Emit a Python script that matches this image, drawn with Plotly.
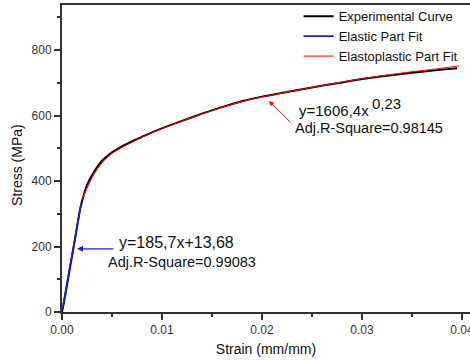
import plotly.graph_objects as go

# Experimental stress-strain curve
exp_strain = [0.0, 0.0002, 0.0006, 0.0010, 0.0014, 0.0018, 0.0021, 0.0025, 0.0030, 0.0035,
              0.0040, 0.0045, 0.0050, 0.0055, 0.0060, 0.0070, 0.0080, 0.0090, 0.0105, 0.0120,
              0.0140, 0.0160, 0.0180, 0.0200, 0.0225, 0.0250, 0.0275, 0.0300, 0.0325, 0.0350,
              0.0375, 0.0395]
exp_stress = [0, 30, 100, 170, 240, 312, 350, 388, 418, 442,
              462, 476, 488, 497, 506, 521, 535, 549, 567, 584,
              606, 626, 644, 658, 672, 686, 699, 712, 722, 731,
              739, 745]

# Elastic part fit (linear)
el_strain = [0.0000, 0.0019]
el_stress = [2, 330]

# Elastoplastic part fit (power law)
pl_strain = [0.0020, 0.0025, 0.0030, 0.0035, 0.0040, 0.0045, 0.0050, 0.0055, 0.0060, 0.0070,
             0.0080, 0.0090, 0.0105, 0.0120, 0.0140, 0.0160, 0.0180, 0.0200, 0.0225, 0.0250,
             0.0275, 0.0300, 0.0325, 0.0350, 0.0375, 0.0397]
pl_stress = [342, 378, 410, 435, 456, 471, 484, 494, 503, 519,
             534, 548, 566, 583, 605, 625, 643, 657, 672, 686,
             700, 713, 724, 734, 743, 752]

x_ticks = [0.0, 0.01, 0.02, 0.03, 0.04]
x_ticklabels = ["0.00", "0.01", "0.02", "0.03", "0.04"]
y_ticks = [0, 200, 400, 600, 800]

FONT = "Arial, Liberation Sans, sans-serif"
AX = "#333333"
BLUE = "#2020cc"

fig = go.Figure()
fig.add_trace(go.Scatter(x=exp_strain, y=exp_stress, mode="lines", name="Experimental Curve",
                         line=dict(color="#000000", width=2, shape="spline", smoothing=0.6)))
fig.add_trace(go.Scatter(x=el_strain, y=el_stress, mode="lines", name="Elastic Part Fit",
                         line=dict(color=BLUE, width=1.6)))
fig.add_trace(go.Scatter(x=pl_strain, y=pl_stress, mode="lines", name="Elastoplastic Part Fit",
                         line=dict(color="#ff0000", width=1, shape="spline", smoothing=0.6)))

annotations = [
    dict(x=0.0055, y=211, xref="x", yref="y", text="y=185,7x+13,68", showarrow=False,
         xanchor="left", yanchor="middle", font=dict(size=16, color="#111", family=FONT)),
    dict(x=0.0044, y=153, xref="x", yref="y", text="Adj.R-Square=0.99083", showarrow=False,
         xanchor="left", yanchor="middle", font=dict(size=14.5, color="#111", family=FONT)),
    dict(x=0.0015, y=193, ax=0.0053, ay=193, xref="x", yref="y", axref="x", ayref="y",
         text="", showarrow=True, arrowhead=2, arrowsize=1, arrowwidth=1.2, arrowcolor=BLUE),
    dict(x=0.0235, y=615, xref="x", yref="y", text="y=1606,4x", showarrow=False,
         xanchor="left", yanchor="middle", font=dict(size=15, color="#111", family=FONT)),
    dict(x=0.0308, y=636, xref="x", yref="y", text="0,23", showarrow=False,
         xanchor="left", yanchor="middle", font=dict(size=15, color="#111", family=FONT)),
    dict(x=0.0231, y=563, xref="x", yref="y", text="Adj.R-Square=0.98145", showarrow=False,
         xanchor="left", yanchor="middle", font=dict(size=14.5, color="#111", family=FONT)),
    dict(x=0.0207, y=645, ax=0.0230, ay=575, xref="x", yref="y", axref="x", ayref="y",
         text="", showarrow=True, arrowhead=2, arrowsize=1, arrowwidth=1, arrowcolor="#ff0000"),
    dict(x=-0.112, y=0.48, xref="paper", yref="paper", text="Stress (MPa)", showarrow=False,
         textangle=-90, xanchor="center", yanchor="middle",
         font=dict(size=14, color="#111", family=FONT)),
]

fig.update_layout(
    width=470, height=360, autosize=False,
    margin=dict(l=62, r=0, t=5, b=48, autoexpand=False),
    paper_bgcolor="white", plot_bgcolor="white",
    font=dict(family=FONT, color=AX),
    showlegend=True,
    legend=dict(x=0.58, y=1.012, xanchor="left", yanchor="top", bgcolor="rgba(0,0,0,0)",
                font=dict(size=13, color="#111", family=FONT), tracegroupgap=0,
                itemwidth=30),
    annotations=annotations,
    xaxis=dict(range=[0, 0.0408], tickvals=x_ticks, ticktext=x_ticklabels, automargin=False,
               showgrid=False, zeroline=False, showline=True, linecolor=AX, linewidth=2,
               mirror=True, ticks="outside", ticklen=6, tickwidth=1.5, tickcolor=AX,
               ticklabeloverflow="allow",
               tickfont=dict(size=12, color=AX, family=FONT),
               minor=dict(dtick=0.005, tick0=0, ticks="outside", ticklen=3, tickwidth=1.5, tickcolor=AX),
               title=dict(text="Strain (mm/mm)", font=dict(size=14, color="#111", family=FONT), standoff=8)),
    yaxis=dict(range=[0, 938], tickvals=y_ticks, automargin=False,
               showgrid=False, zeroline=False, showline=True, linecolor=AX, linewidth=2,
               mirror=False, ticks="outside", ticklen=6, tickwidth=1.5, tickcolor=AX,
               tickfont=dict(size=12, color=AX, family=FONT),
               minor=dict(dtick=100, tick0=0, ticks="outside", ticklen=3, tickwidth=1.5, tickcolor=AX)),
)

fig.write_html("out.html")
